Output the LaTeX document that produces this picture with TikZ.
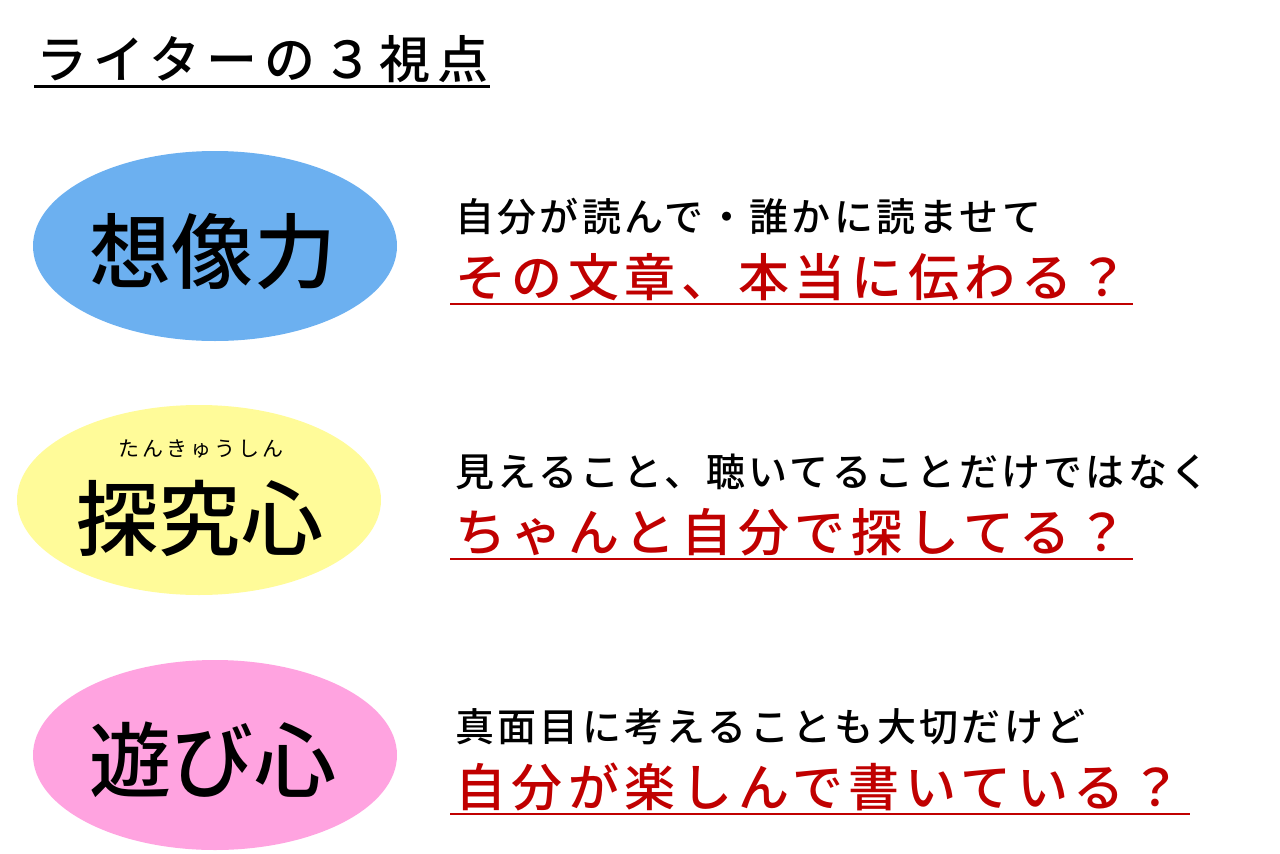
\documentclass[tikz,border=0pt]{standalone}
\usepackage{fontspec}
\usetikzlibrary{shapes.geometric}
\newfontfamily\jpfont{Noto Sans CJK JP}[UprightFont=* Medium]
\newfontfamily\jplight{Noto Sans CJK JP}
\definecolor{eblue}{RGB}{108,176,240}
\definecolor{eyellow}{RGB}{255,251,153}
\definecolor{epink}{RGB}{255,163,224}
\definecolor{dred}{RGB}{192,0,0}
\tikzset{
  oval/.style={ellipse, inner sep=0pt, minimum width=364pt, minimum height=190pt},
  bigword/.style={font=\jpfont\fontsize{82}{82}\selectfont\addfontfeature{LetterSpace=1}, inner sep=0pt},
  ruby/.style={font=\jplight\fontsize{21}{21}\selectfont\addfontfeature{LetterSpace=14}, inner sep=0pt},
  blackline/.style={anchor=base west, inner sep=0pt, font=\jpfont\fontsize{39}{39}\selectfont\addfontfeature{LetterSpace=8.5}},
  redline/.style={anchor=base west, inner sep=0pt, text=dred, font=\jpfont\fontsize{51}{51}\selectfont\addfontfeature{LetterSpace=11}},
  titletext/.style={anchor=base west, inner sep=0pt, font=\jpfont\fontsize{51}{51}\selectfont\addfontfeature{LetterSpace=13}},
  uline/.style={line width=2.5pt, dred},
}
\begin{document}
\begin{tikzpicture}[x=1pt,y=-1pt]
\useasboundingbox (0,0) rectangle (1280,854);
% title
\node[titletext] (title) at (36,78) {ライターの３視点};
\coordinate (t1) at (34,86);
\coordinate (t2) at (490,86);
\draw[line width=3pt] (t1) -- (t2);
% ellipses
\node[oval, fill=eblue] (e1) at (215,246) {};
\node[oval, fill=eyellow] (e2) at (199,500) {};
\node[oval, fill=epink] (e3) at (215,755) {};
\node[bigword] (w1) at (213,252) {想像力};
\node[bigword] (w2) at (200,518) {探究心};
\node[ruby] (r2) at (201,449) {たんきゅうしん};
\node[bigword] (w3) at (213,760) {遊び心};
% right texts
\node[blackline] (b1) at (455,231) {自分が読んで・誰かに読ませて};
\node[redline] (red1) at (455,296) {その文章、本当に伝わる？};
\coordinate (u1a) at (450,304); \coordinate (u1b) at (1133,304);
\draw[uline] (u1a) -- (u1b);
\node[blackline] (b2) at (455,486) {見えること、聴いてることだけではなく};
\node[redline] (red2) at (455,551) {ちゃんと自分で探してる？};
\coordinate (u2a) at (450,559); \coordinate (u2b) at (1133,559);
\draw[uline] (u2a) -- (u2b);
\node[blackline] (b3) at (455,741) {真面目に考えることも大切だけど};
\node[redline] (red3) at (455,806) {自分が楽しんで書いている？};
\coordinate (u3a) at (450,814); \coordinate (u3b) at (1190,814);
\draw[uline] (u3a) -- (u3b);
\end{tikzpicture}
\end{document}
